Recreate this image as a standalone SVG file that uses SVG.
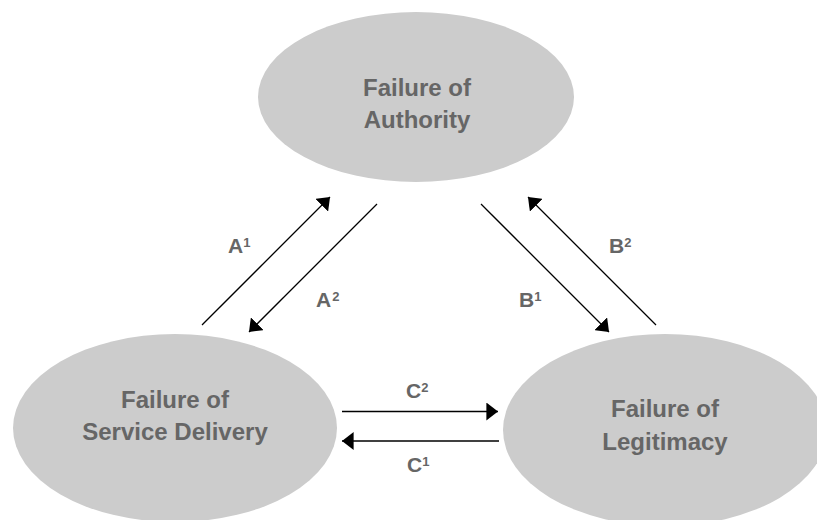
<svg xmlns="http://www.w3.org/2000/svg" width="817" height="520" viewBox="0 0 817 520">
<style>
.node{fill:#cccccc;}
.t{font-family:"Liberation Sans",Arial,sans-serif;font-weight:bold;font-size:24px;fill:#666666;text-anchor:middle;}
.lbl{font-family:"Liberation Sans",Arial,sans-serif;font-weight:bold;font-size:21px;fill:#666666;}
.sup{font-size:13px;}
.c{stroke:#000;stroke-width:1.3;fill:none;marker-end:url(#ah);}
</style>
<defs>
<marker id="ah" markerUnits="userSpaceOnUse" markerWidth="12" markerHeight="18" viewBox="0 0 11 17" refX="11" refY="8.5" orient="auto">
<path d="M0,0 L11,8.5 L0,17 Z" fill="#000"/>
</marker>
</defs>
<rect width="817" height="520" fill="#fff"/>
<g id="authority">
<ellipse class="node" cx="416" cy="97" rx="158" ry="85"/>
<text class="t" x="417" y="96">Failure of</text>
<text class="t" x="417" y="128">Authority</text>
</g>
<g id="service">
<ellipse class="node" cx="175" cy="428" rx="162" ry="94"/>
<text class="t" x="175" y="408">Failure of</text>
<text class="t" x="175" y="440">Service Delivery</text>
</g>
<g id="legitimacy">
<ellipse class="node" cx="665" cy="430" rx="162" ry="96"/>
<text class="t" x="665" y="417">Failure of</text>
<text class="t" x="665" y="450">Legitimacy</text>
</g>
<g id="connectors">
<line class="c" x1="202" y1="325" x2="330" y2="197"/>
<line class="c" x1="377" y1="204" x2="249" y2="332"/>
<line class="c" x1="481" y1="204" x2="609" y2="332"/>
<line class="c" x1="656" y1="325" x2="528" y2="197"/>
<line class="c" x1="342" y1="411.5" x2="498" y2="411.5"/>
<line class="c" x1="499" y1="441" x2="342" y2="441"/>
<text class="lbl" x="228" y="253">A<tspan class="sup" dy="-6">1</tspan></text>
<text class="lbl" x="316" y="307">A<tspan class="sup" dy="-6" dx="1">2</tspan></text>
<text class="lbl" x="519" y="307">B<tspan class="sup" dy="-6">1</tspan></text>
<text class="lbl" x="609" y="253">B<tspan class="sup" dy="-6">2</tspan></text>
<text class="lbl" x="406" y="398">C<tspan class="sup" dy="-6">2</tspan></text>
<text class="lbl" x="407" y="472">C<tspan class="sup" dy="-6">1</tspan></text>
</g>
</svg>
